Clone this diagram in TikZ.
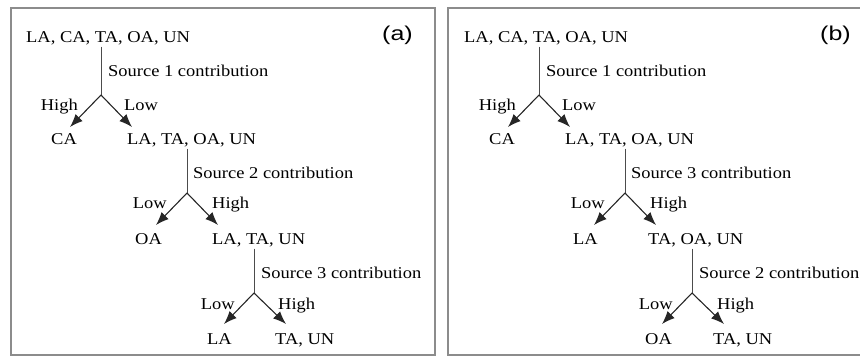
\documentclass[tikz,border=0pt]{standalone}
\usepackage{fontspec}
\setmainfont[FakeStretch=1.12]{Liberation Serif}
\newfontfamily\tagfont[FakeStretch=1.25]{Liberation Sans}
\usepackage{tikz}
\usetikzlibrary{arrows.meta,calc}

\begin{document}
\begin{tikzpicture}[
    x=1pt, y=-1pt,
    every node/.style = {inner sep=0pt, text=black},
    group/.style = {
      anchor=base west,
      font=\fontsize{16.5pt}{18pt}\selectfont,
    },
    source/.style = {group},
    leftword/.style = {group, anchor=base east},
    tag/.style = {
      anchor=base west,
      font=\tagfont\fontsize{20pt}{22pt}\selectfont,
    },
    panel/.style = {draw=black!45, line width=1.3pt},
    stem/.style = {draw=black!70, line width=.8pt, shorten <=2pt},
    connector/.style = {
      draw=black!85, line width=1.1pt, -{Latex[length=13pt,width=10pt]},
    },
  ]
  \useasboundingbox (0,0) rectangle (860,356);
  \clip (0,0) rectangle (860,356);

  % panel (a)
  \draw[panel] (11,8) rectangle (435,355);
  \node[tag] (a-tag) at (382,40) {(a)};
  \node[group] (a-all) at (26,42) {LA, CA, TA, OA, UN};
  \coordinate (a-split1) at (101,95);
  \coordinate (a-high1) at (70,127);
  \coordinate (a-low1) at (132,127);
  \node[source] (a-src1) at (108,76) {Source 1 contribution};
  \node[leftword] (a-hw1) at (78,110) {High};
  \node[group] (a-lw1) at (124,110) {Low};
  \node[group] (a-ca) at (51,144) {CA};
  \node[group] (a-rest1) at (127,144) {LA, TA, OA, UN};
  \draw[stem] (a-all.south -| a-split1) -- (a-split1);
  \draw[connector] (a-split1) -- (a-high1);
  \draw[connector] (a-split1) -- (a-low1);

  \coordinate (a-split2) at (187,193);
  \coordinate (a-low2) at (156,225);
  \coordinate (a-high2) at (218,225);
  \node[source] (a-src2) at (193,178) {Source 2 contribution};
  \node[leftword] (a-lw2) at (167,208) {Low};
  \node[group] (a-hw2) at (212,208) {High};
  \node[group] (a-oa) at (135,244) {OA};
  \node[group] (a-rest2) at (212,244) {LA, TA, UN};
  \draw[stem] (a-rest1.south -| a-split2) -- (a-split2);
  \draw[connector] (a-split2) -- (a-low2);
  \draw[connector] (a-split2) -- (a-high2);

  \coordinate (a-split3) at (254,293);
  \coordinate (a-low3) at (224,324);
  \coordinate (a-high3) at (286,324);
  \node[source] (a-src3) at (261,278) {Source 3 contribution};
  \node[leftword] (a-lw3) at (235,309) {Low};
  \node[group] (a-hw3) at (278,309) {High};
  \node[group] (a-la) at (207,344) {LA};
  \node[group] (a-rest3) at (275,344) {TA, UN};
  \draw[stem] (a-rest2.south -| a-split3) -- (a-split3);
  \draw[connector] (a-split3) -- (a-low3);
  \draw[connector] (a-split3) -- (a-high3);

  % panel (b), same layout moved right
  \begin{scope}[xshift=438pt]
    \draw[panel] (10,8) rectangle (435,355);
    \node[tag] (b-tag) at (382,40) {(b)};
    \node[group] (b-all) at (26,42) {LA, CA, TA, OA, UN};
    \coordinate (b-split1) at (101,95);
    \coordinate (b-high1) at (70,127);
    \coordinate (b-low1) at (132,127);
    \node[source] (b-src1) at (108,76) {Source 1 contribution};
    \node[leftword] (b-hw1) at (78,110) {High};
    \node[group] (b-lw1) at (124,110) {Low};
    \node[group] (b-ca) at (51,144) {CA};
    \node[group] (b-rest1) at (127,144) {LA, TA, OA, UN};
    \draw[stem] (b-all.south -| b-split1) -- (b-split1);
    \draw[connector] (b-split1) -- (b-high1);
    \draw[connector] (b-split1) -- (b-low1);

    \coordinate (b-split2) at (187,193);
    \coordinate (b-low2) at (156,225);
    \coordinate (b-high2) at (218,225);
    \node[source] (b-src2) at (193,178) {Source 3 contribution};
    \node[leftword] (b-lw2) at (167,208) {Low};
    \node[group] (b-hw2) at (212,208) {High};
    \node[group] (b-la) at (135,244) {LA};
    \node[group] (b-rest2) at (210,244) {TA, OA, UN};
    \draw[stem] (b-rest1.south -| b-split2) -- (b-split2);
    \draw[connector] (b-split2) -- (b-low2);
    \draw[connector] (b-split2) -- (b-high2);

    \coordinate (b-split3) at (254,293);
    \coordinate (b-low3) at (224,324);
    \coordinate (b-high3) at (286,324);
    \node[source] (b-src3) at (261,278) {Source 2 contribution};
    \node[leftword] (b-lw3) at (235,309) {Low};
    \node[group] (b-hw3) at (279,309) {High};
    \node[group] (b-oa) at (207,344) {OA};
    \node[group] (b-rest3) at (275,344) {TA, UN};
    \draw[stem] (b-rest2.south -| b-split3) -- (b-split3);
    \draw[connector] (b-split3) -- (b-low3);
    \draw[connector] (b-split3) -- (b-high3);
  \end{scope}
\end{tikzpicture}
\end{document}
